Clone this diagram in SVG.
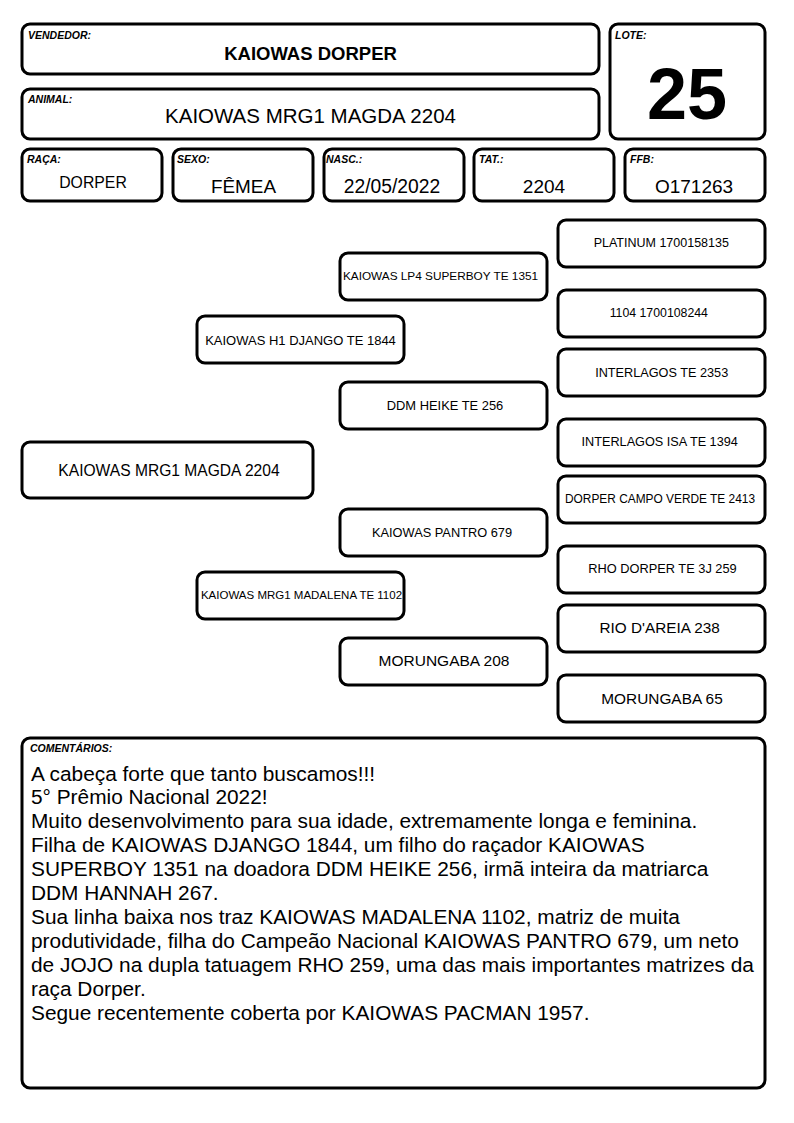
<svg xmlns="http://www.w3.org/2000/svg" width="794" height="1123" viewBox="0 0 794 1123">
<style>
rect.b{fill:#fff;stroke:#000;stroke-width:3}
text{font-family:"Liberation Sans",Arial,sans-serif;fill:#000}
.lbl{font-size:10.5px;font-weight:bold;font-style:italic}
.c{text-anchor:middle}
</style>
<rect width="794" height="1123" fill="#fff"/>
<g id="vendedor">
<rect class="b" x="22" y="24" width="577" height="50" rx="8"/>
<text class="lbl" x="28" y="39">VENDEDOR:</text>
<text class="c" x="310.5" y="60" font-size="18.5" font-weight="bold">KAIOWAS DORPER</text>
</g>
<g id="lote">
<rect class="b" x="610" y="24" width="155" height="115" rx="8"/>
<text class="lbl" x="615" y="39">LOTE:</text>
<text class="c" x="687" y="119" font-size="72" font-weight="bold">25</text>
</g>
<g id="animal">
<rect class="b" x="22" y="89" width="577" height="50" rx="8"/>
<text class="lbl" x="28" y="103">ANIMAL:</text>
<text class="c" x="310.5" y="122.5" font-size="20.5">KAIOWAS MRG1 MAGDA 2204</text>
</g>
<g id="raca">
<rect class="b" x="22" y="149" width="140" height="52" rx="8"/>
<text class="lbl" x="27" y="163">RAÇA:</text>
<text class="c" x="93" y="188" font-size="15.8">DORPER</text>
</g>
<g id="sexo">
<rect class="b" x="173" y="149" width="140" height="52" rx="8"/>
<text class="lbl" x="177" y="163">SEXO:</text>
<text class="c" x="243.5" y="193" font-size="18.9">FÊMEA</text>
</g>
<g id="nasc">
<rect class="b" x="324" y="149" width="140" height="52" rx="8"/>
<text class="lbl" x="326" y="163">NASC.:</text>
<text class="c" x="392" y="193" font-size="19.3">22/05/2022</text>
</g>
<g id="tat">
<rect class="b" x="474" y="149" width="140" height="52" rx="8"/>
<text class="lbl" x="479" y="163">TAT.:</text>
<text class="c" x="544" y="193" font-size="19">2204</text>
</g>
<g id="ffb">
<rect class="b" x="625" y="149" width="140" height="52" rx="8"/>
<text class="lbl" x="630" y="163">FFB:</text>
<text class="c" x="694" y="193" font-size="19">O171263</text>
</g>
<g id="subject">
<rect class="b" x="22" y="442" width="291" height="56" rx="8"/>
<text class="c" x="169" y="476" font-size="15.6">KAIOWAS MRG1 MAGDA 2204</text>
</g>
<g id="sire">
<rect class="b" x="197" y="316" width="207" height="47" rx="8"/>
<text class="c" x="300.5" y="344.5" font-size="13">KAIOWAS H1 DJANGO TE 1844</text>
</g>
<g id="dam">
<rect class="b" x="197" y="572" width="207" height="47" rx="8"/>
<text class="c" x="301.5" y="599" font-size="11.5">KAIOWAS MRG1 MADALENA TE 1102</text>
</g>
<g id="ss">
<rect class="b" x="340" y="253" width="207" height="47" rx="8"/>
<text class="c" x="440.5" y="280" font-size="11.8">KAIOWAS LP4 SUPERBOY TE 1351</text>
</g>
<g id="sd">
<rect class="b" x="340" y="382" width="207" height="47" rx="8"/>
<text class="c" x="445" y="410" font-size="12.9">DDM HEIKE TE 256</text>
</g>
<g id="ds">
<rect class="b" x="340" y="509" width="207" height="47" rx="8"/>
<text class="c" x="442" y="537.3" font-size="12.8">KAIOWAS PANTRO 679</text>
</g>
<g id="dd">
<rect class="b" x="340" y="638" width="207" height="47" rx="8"/>
<text class="c" x="444" y="666" font-size="15.5">MORUNGABA 208</text>
</g>
<g id="sss">
<rect class="b" x="558" y="220" width="207" height="47" rx="8"/>
<text class="c" x="661.3" y="246.7" font-size="12.5">PLATINUM 1700158135</text>
</g>
<g id="ssd">
<rect class="b" x="558" y="290" width="207" height="47" rx="8"/>
<text class="c" x="658.8" y="316.7" font-size="12.3">1104 1700108244</text>
</g>
<g id="sds">
<rect class="b" x="558" y="349" width="207" height="47" rx="8"/>
<text class="c" x="661.7" y="376.7" font-size="12.7">INTERLAGOS TE 2353</text>
</g>
<g id="sdd">
<rect class="b" x="558" y="419" width="207" height="47" rx="8"/>
<text class="c" x="659.7" y="445.7" font-size="12.7">INTERLAGOS ISA TE 1394</text>
</g>
<g id="dss">
<rect class="b" x="558" y="476" width="207" height="47" rx="8"/>
<text class="c" x="660" y="502.7" font-size="11.9">DORPER CAMPO VERDE TE 2413</text>
</g>
<g id="dsd">
<rect class="b" x="558" y="546" width="207" height="47" rx="8"/>
<text class="c" x="662.5" y="573.3" font-size="12.8">RHO DORPER TE 3J 259</text>
</g>
<g id="dds">
<rect class="b" x="558" y="605" width="207" height="47" rx="8"/>
<text class="c" x="659.7" y="633.3" font-size="15.3">RIO D'AREIA 238</text>
</g>
<g id="ddd">
<rect class="b" x="558" y="675" width="207" height="47" rx="8"/>
<text class="c" x="662" y="704" font-size="15.4">MORUNGABA 65</text>
</g>
<g id="connectors"></g>
<g id="comentarios">
<rect class="b" x="22" y="738" width="743" height="350" rx="8"/>
<text class="lbl" x="30" y="752" font-size="11">COMENTÁRIOS:</text>
<text x="31" font-size="20.85">
<tspan x="31" y="780.5">A cabeça forte que tanto buscamos!!!</tspan>
<tspan x="31" y="804.4">5° Prêmio Nacional 2022!</tspan>
<tspan x="31" y="828.3">Muito desenvolvimento para sua idade, extremamente longa e feminina.</tspan>
<tspan x="31" y="852.2">Filha de KAIOWAS DJANGO 1844, um filho do raçador KAIOWAS</tspan>
<tspan x="31" y="876.1">SUPERBOY 1351 na doadora DDM HEIKE 256, irmã inteira da matriarca</tspan>
<tspan x="31" y="900">DDM HANNAH 267.</tspan>
<tspan x="31" y="923.9">Sua linha baixa nos traz KAIOWAS MADALENA 1102, matriz de muita</tspan>
<tspan x="31" y="947.8">produtividade, filha do Campeão Nacional KAIOWAS PANTRO 679, um neto</tspan>
<tspan x="31" y="971.7">de JOJO na dupla tatuagem RHO 259, uma das mais importantes matrizes da</tspan>
<tspan x="31" y="995.6">raça Dorper.</tspan>
<tspan x="31" y="1019.5">Segue recentemente coberta por KAIOWAS PACMAN 1957.</tspan>
</text>
</g>
</svg>
